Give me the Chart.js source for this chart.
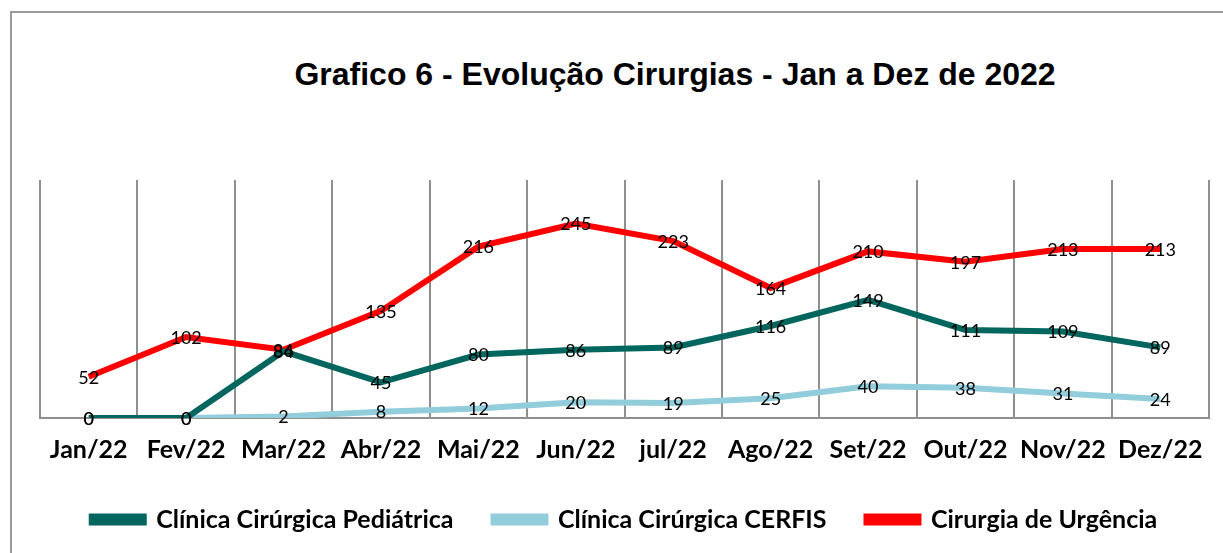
<!DOCTYPE html>
<html>
<head>
<meta charset="utf-8">
<script src="https://cdn.jsdelivr.net/npm/chart.js@4"></script>
<style>
  body { margin: 0; background: #fff; overflow: hidden; }
  #frame {
    position: absolute; left: 10px; top: 11px; width: 1300px; height: 600px;
    border-left: 2px solid #999; border-top: 2px solid #999;
  }
  #title {
    position: absolute; left: 0; width: 1350px; top: 56px; text-align: center;
    font: bold 32px "Liberation Sans", Arial, sans-serif; color: #000;
  }
  #wrap { position: absolute; left: 0; top: 0; width: 1223px; height: 553px; }
</style>
</head>
<body>
<div id="frame"></div>
<div id="title">Grafico 6 - Evolução Cirurgias - Jan a Dez de 2022</div>
<div id="wrap"><canvas id="chart"></canvas></div>
<script>
const months = ['Jan/22', 'Fev/22', 'Mar/22', 'Abr/22', 'Mai/22', 'Jun/22', 'jul/22', 'Ago/22', 'Set/22', 'Out/22', 'Nov/22', 'Dez/22'];
const pediatrica = [0, 0, 84, 45, 80, 86, 89, 116, 149, 111, 109, 89];
const cerfis = [0, 0, 2, 8, 12, 20, 19, 25, 40, 38, 31, 24];
const urgencia = [52, 102, 86, 135, 216, 245, 223, 164, 210, 197, 213, 213];

const labelFont = '18px Lato, sans-serif';

// labels centred on each point, like the Excel original
const pointLabels = {
    id: 'pointLabels',
    afterDatasetsDraw(chart) {
        const ctx = chart.ctx;
        ctx.save();
        ctx.font = labelFont;
        ctx.fillStyle = '#000';
        ctx.textAlign = 'center';
        ctx.textBaseline = 'middle';
        chart.data.datasets.forEach((ds, i) => {
            chart.getDatasetMeta(i).data.forEach((pt, j) => {
                ctx.fillText(ds.data[j], pt.x, pt.y + 1);
            });
        });
        ctx.restore();
    }
};

function series(label, data, color) {
    return {
        label: label,
        data: data,
        borderColor: color,
        backgroundColor: color,
        borderWidth: 6,
        pointRadius: 0,
        tension: 0
    };
}

new Chart(document.getElementById('chart'), {
    type: 'line',
    data: {
        labels: months,
        datasets: [
            series('Clínica Cirúrgica Pediátrica', pediatrica, '#00665E'),
            series('Clínica Cirúrgica CERFIS', cerfis, '#92CDDC'),
            series('Cirurgia de Urgência', urgencia, '#FF0000')
        ]
    },
    options: {
        responsive: true,
        maintainAspectRatio: false,
        animation: false,
        layout: { padding: { left: 40, right: 14, top: 180, bottom: 11 } },
        scales: {
            x: {
                offset: true,
                grid: { offset: true, color: '#8f8f8f', lineWidth: 2, drawTicks: false },
                border: { color: '#8f8f8f', width: 2 },
                ticks: {
                    color: '#000',
                    padding: 17,
                    font: { family: 'Lato, sans-serif', size: 25, weight: 'bold' }
                },
                afterFit(scale) { scale.height = 49; }
            },
            y: {
                display: false,
                min: 0,
                max: 300
            }
        },
        plugins: {
            legend: {
                position: 'bottom',
                labels: {
                    boxWidth: 52,
                    boxHeight: 6,
                    padding: 40,
                    color: '#000',
                    font: { family: 'Lato, sans-serif', size: 25, weight: 'bold' }
                }
            },
            tooltip: { enabled: false }
        }
    },
    plugins: [pointLabels]
});
</script>
</body>
</html>
